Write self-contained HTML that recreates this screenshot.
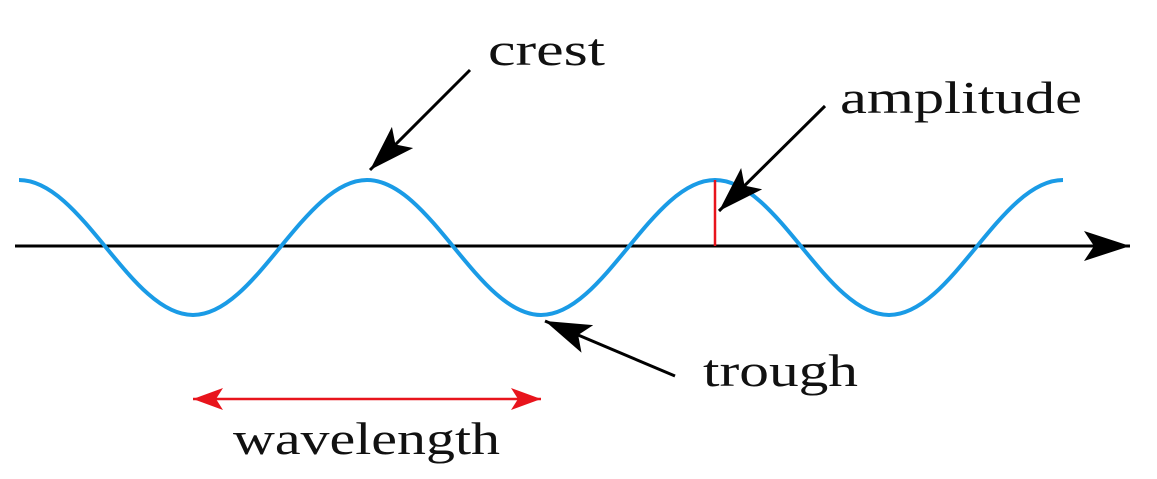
<!DOCTYPE html>
<html><head><style>
html,body{margin:0;padding:0;background:#fff;}
svg{display:block;}
text{font-family:"Liberation Serif",serif;font-size:45px;fill:#111;}
</style></head><body>
<svg width="1157" height="479" viewBox="0 0 1157 479" xmlns="http://www.w3.org/2000/svg">
<defs>
<marker id="ah" markerUnits="userSpaceOnUse" markerWidth="50" markerHeight="34" refX="46" refY="15" orient="auto">
<path d="M0,0 L46,15 L0,30 L10,15 Z" fill="#000"/>
</marker>
<marker id="rh" markerUnits="userSpaceOnUse" markerWidth="34" markerHeight="24" refX="30" refY="11" orient="auto-start-reverse">
<path d="M0,0 L30,11 L0,22 L7,11 Z" fill="#e8141c"/>
</marker>
</defs>
<line x1="15" y1="246" x2="1130" y2="246" stroke="#000" stroke-width="3" marker-end="url(#ah)"/>
<path d="M19,180 C82,180 130,315 193,315 C256,315 304,180 367,180 C430,180 478,315 541,315 C604,315 652,180 715,180 C778,180 826,315 889,315 C952,315 1000,180 1063,180" fill="none" stroke="#1a9be6" stroke-width="4"/>
<line x1="715" y1="180" x2="715" y2="246" stroke="#e8141c" stroke-width="2.5"/>
<line x1="470" y1="70" x2="370" y2="170" stroke="#000" stroke-width="3" marker-end="url(#ah)"/>
<line x1="825" y1="106" x2="719" y2="211" stroke="#000" stroke-width="3" marker-end="url(#ah)"/>
<line x1="675" y1="376" x2="545" y2="321" stroke="#000" stroke-width="3" marker-end="url(#ah)"/>
<line x1="193" y1="399" x2="541" y2="399" stroke="#e8141c" stroke-width="2.5" marker-start="url(#rh)" marker-end="url(#rh)"/>
<text x="488" y="65" textLength="117" lengthAdjust="spacingAndGlyphs">crest</text>
<text x="840" y="113" textLength="242" lengthAdjust="spacingAndGlyphs">amplitude</text>
<text x="703" y="386" textLength="155" lengthAdjust="spacingAndGlyphs">trough</text>
<text x="233" y="454" textLength="267" lengthAdjust="spacingAndGlyphs">wavelength</text>
</svg>
</body></html>
